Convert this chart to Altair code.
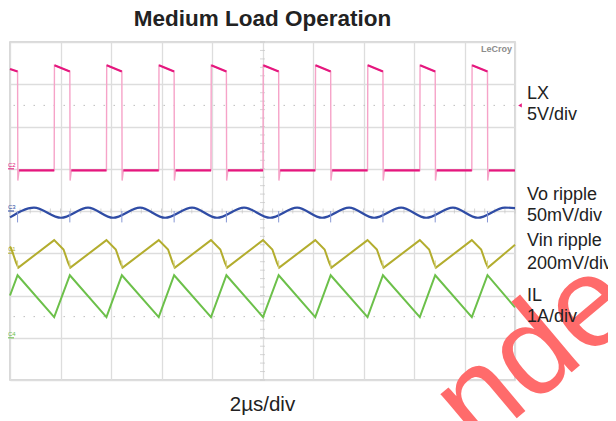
import altair as alt
import pandas as pd
import numpy as np

# ---------------- values ----------------
# x in microseconds (2 us/div, 10 div); y in screen divisions from centre (8 div)
lx_rise_us = [1.75, 3.82, 5.89, 7.96, 10.02, 12.09, 14.16, 16.23, 18.29]
lx_fall_us = [0.30, 2.37, 4.43, 6.50, 8.57, 10.64, 12.70, 14.77, 16.84, 18.91]
lx_start_div = 3.36
lx_high_start_div = 3.45
lx_high_end_div = 3.30
lx_low_div = 0.96
lx_undershoot_div = 0.72

vo_peak_us = [0.95, 3.09, 5.15, 7.21, 9.27, 11.37, 13.43, 15.49, 17.54, 19.60]
vo_trough_us = [2.02, 4.08, 6.14, 8.20, 10.30, 12.36, 14.42, 16.48, 18.53]
vo_peak_div = 0.08
vo_trough_div = -0.16
vo_start_div = -0.15
vo_end_div = 0.07
vo_spike_div = [-0.27, 0.0]

vin_head_us = [0.0, 0.06, 0.24, 0.33]
vin_head_div = [-0.84, -0.91, -1.22, -1.34]
vin_on_dt_us = [0.0, 0.37, 0.55, 0.64]
vin_on_div = [-0.69, -0.91, -1.22, -1.34]
vin_end_div = -0.80
vin_spike_div = [-1.36, -1.17]

il_start_div = -2.00
il_peak_div = -1.52
il_trough_div = -2.51
il_end_div = -2.28

title_text = "Medium Load Operation"
xlabel_text = "2\u00b5s/div"
label_texts = ["LX", "5V/div", "Vo ripple", "50mV/div", "Vin ripple", "200mV/div", "IL", "1A/div"]
channel_tags = ["C2", "C3", "C1", "C4"]
channel_ground_div = [1.0, 0.0, -1.0, -3.0]
watermark_text = "nde"

PINK = "#e5177e"
PINK_LIGHT = "#f6a3c8"
BLUE = "#2f4ca5"
BLUE_LIGHT = "#8797d4"
YELLOW = "#b3ad2e"
YELLOW_LIGHT = "#d6d27f"
GREEN = "#6cc04a"
FONT = "Liberation Sans"

# ---------------- build trace tables ----------------
# LX
events = sorted([(t, "f") for t in lx_fall_us] + [(t, "r") for t in lx_rise_us])
lx_pts = [(0.0, lx_start_div)]
plateau = [[(0.0, lx_start_div)]]
for t, kind in events:
    if kind == "f":
        lx_pts += [(t, lx_high_end_div), (t + 0.01, lx_undershoot_div), (t + 0.06, lx_low_div)]
        plateau[-1].append((t, lx_high_end_div))
        plateau.append([(t + 0.06, lx_low_div)])
    else:
        lx_pts += [(t, lx_low_div), (t + 0.01, lx_high_start_div)]
        plateau[-1].append((t, lx_low_div))
        plateau.append([(t + 0.01, lx_high_start_div)])
lx_pts.append((20.0, lx_low_div))
plateau[-1].append((20.0, lx_low_div))
lx_df = pd.DataFrame(lx_pts, columns=["t", "v"])
lx_df["i"] = range(len(lx_df))
seg_rows = []
for k, seg in enumerate(plateau):
    for j, (t, v) in enumerate(seg):
        seg_rows.append({"t": t, "v": v, "seg": k, "i": j})
lx_seg_df = pd.DataFrame(seg_rows)

# Vo
vo_pts = [(0.0, vo_start_div)] + [(t, vo_peak_div) for t in vo_peak_us] + \
         [(t, vo_trough_div) for t in vo_trough_us] + [(20.0, vo_end_div)]
vo_df = pd.DataFrame(sorted(vo_pts), columns=["t", "v"])
vo_spk = pd.DataFrame({"t": lx_fall_us, "y1": vo_spike_div[0], "y2": vo_spike_div[1]})

# Vin
vin_pts = list(zip(vin_head_us, vin_head_div))
for r in lx_rise_us:
    vin_pts += [(r + dt, v) for dt, v in zip(vin_on_dt_us, vin_on_div)]
vin_pts.append((20.0, vin_end_div))
vin_df = pd.DataFrame(vin_pts, columns=["t", "v"])
vin_spk = pd.DataFrame({"t": lx_fall_us, "y1": vin_spike_div[0], "y2": vin_spike_div[1]})

# IL
il_pts = [(0.0, il_start_div)] + [(t, il_peak_div) for t in lx_fall_us] + \
         [(t, il_trough_div) for t in lx_rise_us] + [(20.0, il_end_div)]
il_df = pd.DataFrame(sorted(il_pts), columns=["t", "v"])

# annotation tables
lab_df = pd.DataFrame({"text": label_texts,
                       "v": [2.64, 2.15, 0.27, -0.24, -0.83, -1.37, -2.12, -2.63]})
tag_df = pd.DataFrame({"text": channel_tags, "v": channel_ground_div,
                       "c": [PINK, BLUE, YELLOW, GREEN]})

xs = alt.Scale(domain=[0, 20], nice=False, zero=False)
ys = alt.Scale(domain=[-4, 4], nice=False, zero=False)
X = lambda f="t": alt.X(f"{f}:Q", scale=xs, axis=alt.Axis(values=list(range(0, 21, 2)), grid=True,
                                                          labels=False, ticks=False, domain=False, title=None))
Y = lambda f="v": alt.Y(f"{f}:Q", scale=ys, axis=alt.Axis(values=list(range(-4, 5)), grid=True,
                                                          labels=False, ticks=False, domain=False, title=None))

# grid crosshair ticks
hticks = pd.DataFrame({"t": np.round(np.arange(0, 20.01, 0.4), 2), "v": 0.0})
vticks = pd.DataFrame({"t": 10.0, "v": np.round(np.arange(-4, 4.01, 0.2), 2)})
cross_h = alt.Chart(hticks).mark_tick(orient="vertical", size=5, thickness=1, color="#c4c4c4").encode(x=X(), y=Y())
cross_v = alt.Chart(vticks).mark_tick(orient="horizontal", size=5, thickness=1, color="#c4c4c4").encode(x=X(), y=Y())
dots = alt.Chart(pd.DataFrame({"v": [2.5, -2.5]})).mark_rule(
    color="#bdbdbd", strokeDash=[1.5, 8.5], strokeWidth=1).encode(y=Y())

lx_light = alt.Chart(lx_df).mark_line(color=PINK_LIGHT, strokeWidth=1.4).encode(
    x=X(), y=Y(), order="i:Q")
lx_dark = alt.Chart(lx_seg_df).mark_line(color=PINK, strokeWidth=2.2).encode(
    x=X(), y=Y(), detail="seg:N", order="i:Q")

vo_line = alt.Chart(vo_df).mark_line(color=BLUE, strokeWidth=2.2, interpolate="monotone").encode(x=X(), y=Y())
vo_sp = alt.Chart(vo_spk).mark_rule(color=BLUE_LIGHT, strokeWidth=1).encode(x=X(), y=Y("y1"), y2="y2:Q")

vin_line = alt.Chart(vin_df).mark_line(color=YELLOW, strokeWidth=2.0).encode(x=X(), y=Y())
vin_sp = alt.Chart(vin_spk).mark_rule(color=YELLOW_LIGHT, strokeWidth=1).encode(x=X(), y=Y("y1"), y2="y2:Q")

il_line = alt.Chart(il_df).mark_line(color=GREEN, strokeWidth=2.0).encode(x=X(), y=Y())

labels = alt.Chart(lab_df).mark_text(align="left", baseline="alphabetic", font=FONT, fontSize=18,
                                     color="#222222", dx=12).encode(
    x=alt.datum(20), y=Y(), text="text:N")

tags = alt.Chart(tag_df).mark_text(align="left", baseline="bottom", font=FONT, fontSize=6,
                                   dx=-2, dy=-1).encode(
    x=alt.datum(0), y=Y(), text="text:N", color=alt.Color("c:N", scale=None))
tag_lines = alt.Chart(tag_df).mark_tick(orient="horizontal", size=6, thickness=1.5, xOffset=1).encode(
    x=alt.datum(0), y=Y(), color=alt.Color("c:N", scale=None))

arrow = alt.Chart(pd.DataFrame({"v": [2.5]})).mark_point(
    shape="triangle-left", filled=True, size=18, color=PINK, opacity=1, xOffset=5).encode(
    x=alt.datum(20), y=Y())

logo = alt.Chart(pd.DataFrame({"text": ["LeCroy"]})).mark_text(
    align="right", baseline="top", font=FONT, fontSize=9, fontWeight="bold", color="#8c8c8c",
    dx=-3, dy=3).encode(x=alt.datum(20), y=alt.datum(4), text="text:N")

title = alt.Chart(pd.DataFrame({"text": [title_text]})).mark_text(
    align="center", baseline="alphabetic", font=FONT, fontSize=22.5, fontWeight="bold",
    color="#222222", dy=-16).encode(x=alt.datum(10), y=alt.datum(4), text="text:N")

xlabel = alt.Chart(pd.DataFrame({"text": [xlabel_text]})).mark_text(
    align="center", baseline="alphabetic", font=FONT, fontSize=20.5, color="#222222", dy=31).encode(
    x=alt.datum(10), y=alt.datum(-4), text="text:N")

watermark = alt.Chart(pd.DataFrame({"text": [watermark_text]})).mark_text(
    align="left", baseline="alphabetic", font=FONT, fontSize=128, color="#ff6b6b",
    angle=320).encode(x=alt.datum(18.5), y=alt.datum(-5.69), text="text:N")

chart = alt.layer(
    cross_h, cross_v, dots,
    lx_light, lx_dark,
    vo_line, vo_sp,
    vin_line, vin_sp,
    il_line,
    watermark, labels, tags, tag_lines, arrow, logo, title, xlabel,
).properties(
    width=505, height=338,
    autosize=alt.AutoSizeParams(type="none"),
    padding={"left": 2, "top": 34, "right": 93, "bottom": 41},
).configure_view(
    stroke="#cccccc", strokeWidth=1.5
).configure_axis(
    gridColor="#dddddd", gridWidth=1.3
)

chart.save("out.html", embed_options={"renderer": "svg", "actions": False})
